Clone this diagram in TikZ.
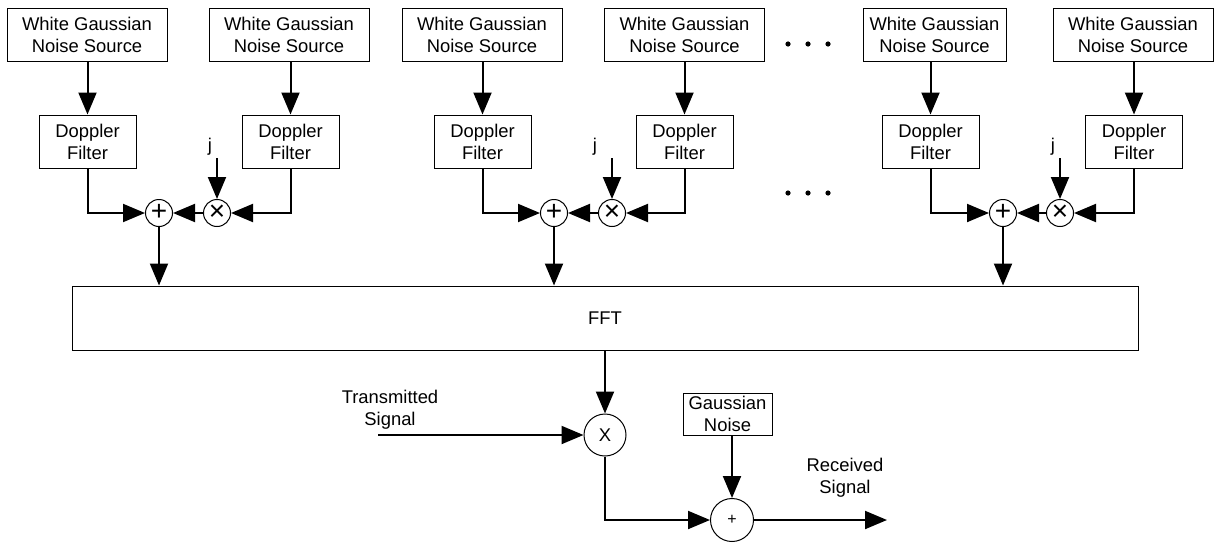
\documentclass[tikz,border=0pt]{standalone}
\usepackage{fontspec}
\setmainfont{Liberation Sans}
\usetikzlibrary{arrows.meta}
\begin{document}
\begin{tikzpicture}[x=0.5pt,y=-0.5pt,
  txt/.style={font=\fontsize{9.2}{11}\selectfont, align=center, inner sep=0pt},
  box/.style={txt, draw, line width=0.5pt},
  wgn/.style={box, minimum width=80pt, minimum height=26.5pt},
  dop/.style={box, minimum width=48.5pt, minimum height=26.5pt},
  op/.style={circle, draw, line width=0.5pt, minimum size=13.5pt, inner sep=0pt, font=\fontsize{14}{14}\selectfont},
  bigop/.style={circle, draw, line width=0.5pt, minimum size=21pt, inner sep=0pt},
  conn/.style={line width=1pt, -{Triangle[length=11pt,width=9pt]}},
  line/.style={line width=1pt}
]
\useasboundingbox (0,0) rectangle (1215,546);

% group 1
\node[wgn] (w1) at (87,34.5) {White Gaussian\\Noise Source};
\node[wgn] (w2) at (289,34.5) {White Gaussian\\Noise Source};
\node[dop] (d1) at (87.5,141.5) {Doppler\\Filter};
\node[dop] (d2) at (290.5,141.5) {Doppler\\Filter};
\node[op] (p1) at (159,213) {\raisebox{0.6pt}{+}};
\node[op] (t1) at (217,213) {×};
\node[txt] (j1) at (210,147) {j};
\coordinate (j1s) at (217,158);

% group 2
\node[wgn] (w3) at (482,34.5) {White Gaussian\\Noise Source};
\node[wgn] (w4) at (684.5,34.5) {White Gaussian\\Noise Source};
\node[dop] (d3) at (482.5,141.5) {Doppler\\Filter};
\node[dop] (d4) at (684.5,141.5) {Doppler\\Filter};
\node[op] (p2) at (554,213) {\raisebox{0.6pt}{+}};
\node[op] (t2) at (612,213) {×};
\node[txt] (j2) at (595,147) {j};
\coordinate (j2s) at (612,158);

% group 3
\node[box, minimum width=71.5pt, minimum height=26.5pt] (w5) at (934.5,34.5) {White Gaussian\\Noise Source};
\node[wgn] (w6) at (1133,34.5) {White Gaussian\\Noise Source};
\node[dop] (d5) at (930.5,141.5) {Doppler\\Filter};
\node[dop] (d6) at (1134,141.5) {Doppler\\Filter};
\node[op] (p3) at (1003,213) {\raisebox{0.6pt}{+}};
\node[op] (t3) at (1060,213) {×};
\node[txt] (j3) at (1053,147) {j};
\coordinate (j3s) at (1060,158);

% dots
\foreach \x in {788,808,828} {
  \fill (\x,44) circle (1.3pt);
  \fill (\x,193) circle (1.3pt);
}

% FFT
\node[box, minimum width=533pt, minimum height=32pt] (fft) at (605,318) {FFT};

% connectors groups
\foreach \g/\wa/\wb/\da/\db/\p/\t/\js in {1/w1/w2/d1/d2/p1/t1/j1s, 2/w3/w4/d3/d4/p2/t2/j2s, 3/w5/w6/d5/d6/p3/t3/j3s} {
  \draw[conn] (\da.north |- \wa.south) -- (\da.north);
  \draw[conn] (\db.north |- \wb.south) -- (\db.north);
  \draw[conn] (\da.south) |- (\p.west);
  \draw[conn] (\db.south) |- (\t.east);
  \draw[conn] (\t.west) -- (\p.east);
  \draw[conn] (\js) -- (\t.north);
  \draw[conn] (\p.south) -- (\p.south |- fft.north);
}

% bottom
\node[bigop, font=\fontsize{9.2}{11}\selectfont] (mx) at (605,435) {X};
\node[box, minimum width=44.5pt, minimum height=21pt] (gn) at (727.5,414) {Gaussian\\Noise};
\node[bigop, minimum size=21.5pt, font=\fontsize{8}{8}\selectfont] (ad) at (732,520) {+};
\node[txt] (ts) at (390,410) {Transmitted\\Signal};
\node[txt] (rs) at (845,478) {Received\\Signal};
\coordinate (tsin) at (378,435);
\coordinate (out) at (887,520);

\draw[conn] (fft.south -| mx.north) -- (mx.north);
\draw[conn] (tsin) -- (mx.west);
\draw[conn] (mx.south) |- (ad.west);
\draw[conn] (ad.north |- gn.south) -- (ad.north);
\draw[conn] (ad.east) -- (out);
\end{tikzpicture}
\end{document}
